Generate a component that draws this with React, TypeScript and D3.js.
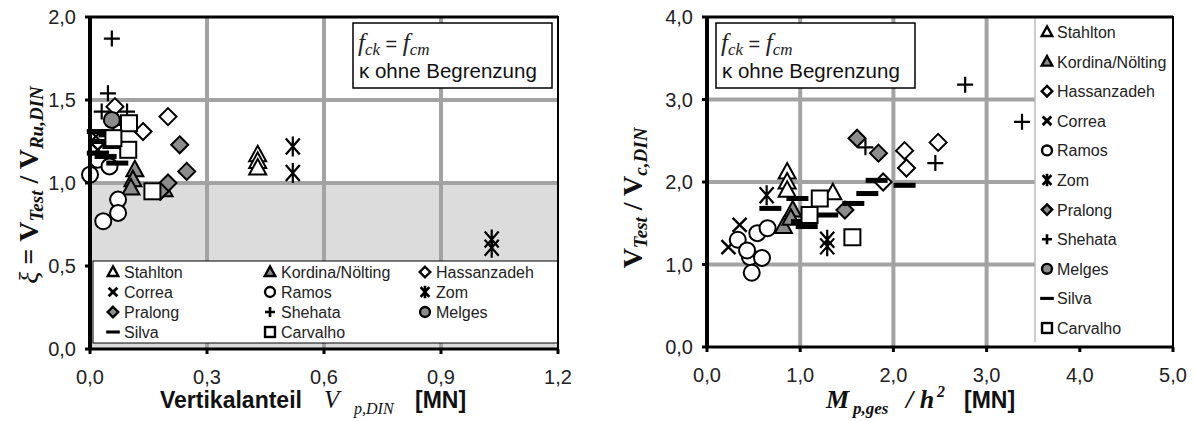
import React from "react";
import * as d3 from "d3";

const W = 1195;
const H = 421;

type Pt = [number, number];

const seriesNames = [
  "Stahlton",
  "Kordina/Nölting",
  "Hassanzadeh",
  "Correa",
  "Ramos",
  "Zom",
  "Pralong",
  "Shehata",
  "Melges",
  "Silva",
  "Carvalho",
];
const seriesMarkers = [
  "triangle",
  "triangleGray",
  "diamond",
  "cross",
  "circle",
  "star",
  "diamondGray",
  "plus",
  "circleGray",
  "dash",
  "square",
];

// left chart: Vertikalanteil V_p,DIN vs xi
const leftStahlton: Pt[] = [[0.43, 1.17], [0.43, 1.13], [0.43, 1.09]];
const leftKordina: Pt[] = [[0.115, 1.08], [0.11, 1.02], [0.105, 0.97], [0.19, 0.96]];
const leftHassanzadeh: Pt[] = [[0.064, 1.46], [0.2, 1.4], [0.136, 1.31]];
const leftCorrea: Pt[] = [[0.015, 1.28], [0.02, 1.2], [0.03, 1.15]];
const leftRamos: Pt[] = [[0, 1.05], [0.02, 1.14], [0.05, 1.1], [0.072, 0.9], [0.072, 0.82], [0.034, 0.77]];
const leftZom: Pt[] = [[0.52, 1.22], [0.52, 1.06], [1.03, 0.66], [1.03, 0.61]];
const leftPralong: Pt[] = [[0.23, 1.23], [0.248, 1.07], [0.2, 1.0], [0.18, 0.95]];
const leftShehata: Pt[] = [[0.056, 1.87], [0.046, 1.54], [0.03, 1.43], [0.095, 1.43], [0.06, 1.35]];
const leftMelges: Pt[] = [[0.056, 1.38]];
const leftSilva: Pt[] = [[0.02, 1.31], [0.05, 1.29], [0.03, 1.25], [0.06, 1.22], [0.02, 1.18], [0.07, 1.12], [0.04, 1.16]];
const leftCarvalho: Pt[] = [[0.1, 1.36], [0.098, 1.2], [0.16, 0.95], [0.06, 1.27]];

// right chart: M_p,ges / h^2 vs V_Test / V_c,DIN
const rightStahlton: Pt[] = [[0.86, 2.12], [0.86, 2.0], [0.86, 1.9], [1.35, 1.87]];
const rightKordina: Pt[] = [[0.92, 1.66], [0.82, 1.46], [0.9, 1.56]];
const rightHassanzadeh: Pt[] = [[1.89, 2.0], [2.12, 2.38], [2.14, 2.17], [2.48, 2.48]];
const rightCorrea: Pt[] = [[0.23, 1.21], [0.35, 1.48]];
const rightRamos: Pt[] = [[0.33, 1.3], [0.46, 1.09], [0.59, 1.08], [0.48, 0.9], [0.54, 1.38], [0.65, 1.44], [0.43, 1.17]];
const rightZom: Pt[] = [[0.64, 1.84], [1.29, 1.3], [1.29, 1.22]];
const rightPralong: Pt[] = [[1.48, 1.66], [1.84, 2.35], [1.61, 2.53]];
const rightShehata: Pt[] = [[1.7, 2.42], [2.45, 2.23], [2.77, 3.18], [3.38, 2.73]];
const rightMelges: Pt[] = [];
const rightSilva: Pt[] = [[0.68, 1.68], [0.97, 1.8], [1.02, 1.52], [1.07, 1.46], [1.29, 1.6], [1.57, 1.74], [1.72, 1.86], [2.12, 1.96], [1.82, 2.02]];
const rightCarvalho: Pt[] = [[1.21, 1.8], [1.1, 1.6], [1.56, 1.33]];

const leftXTicks = [0, 0.3, 0.6, 0.9, 1.2];
const leftYTicks = [0, 0.5, 1, 1.5, 2];
const rightXTicks = [0, 1, 2, 3, 4, 5];
const rightYTicks = [0, 1, 2, 3, 4];

const leftSeries = [leftStahlton, leftKordina, leftHassanzadeh, leftCorrea, leftRamos, leftZom, leftPralong, leftShehata, leftMelges, leftSilva, leftCarvalho];
const rightSeries = [rightStahlton, rightKordina, rightHassanzadeh, rightCorrea, rightRamos, rightZom, rightPralong, rightShehata, rightMelges, rightSilva, rightCarvalho];

const GRID = "#a3a3a3";
const GRAYFILL = "#8c8c8c";
const SANS = "'Liberation Sans', Arial, sans-serif";
const SERIF = "'Liberation Serif', 'Times New Roman', serif";
const fmt = (v: number) => d3.format(".1f")(v).replace(".", ",");

function Marker({ type, x, y, s = 1, sw = 2 }: { type: string; x: number; y: number; s?: number; sw?: number }) {
  const fill = type.endsWith("Gray") ? GRAYFILL : "#fff";
  const t = `translate(${x},${y}) scale(${s})`;
  const w = sw / s;
  if (type.startsWith("triangle"))
    return <path transform={t} d="M0,-9L8.5,6.5L-8.5,6.5Z" fill={fill} stroke="#000" strokeWidth={w} />;
  if (type.startsWith("diamond"))
    return <path transform={t} d="M0,-8.5L8.5,0L0,8.5L-8.5,0Z" fill={fill} stroke="#000" strokeWidth={w} />;
  if (type.startsWith("circle")) return <circle transform={t} r={8} fill={fill} stroke="#000" strokeWidth={w} />;
  if (type === "square") return <rect transform={t} x={-8} y={-8} width={16} height={16} fill="#fff" stroke="#000" strokeWidth={w} />;
  if (type === "cross")
    return <path transform={t} d="M-7,-7L7,7M-7,7L7,-7" stroke="#000" strokeWidth={w * 1.2} fill="none" />;
  if (type === "plus")
    return <path transform={t} d="M-8,0L8,0M0,-8L0,8" stroke="#000" strokeWidth={w * 1.1} fill="none" />;
  if (type === "star")
    return <path transform={t} d="M-7,-8L7,8M-7,8L7,-8M0,-10L0,10" stroke="#000" strokeWidth={w * 1.1} fill="none" />;
  if (type === "dash") return <rect transform={t} x={-11} y={-2.5} width={22} height={5} fill="#000" />;
  return null;
}

function Annotation({ x, y, w }: { x: number; y: number; w: number }) {
  return (
    <g>
      <rect x={x} y={y} width={w} height={65} fill="#fff" stroke="#000" strokeWidth={1.5} />
      <text x={x + 5} y={y + 28} fontFamily={SERIF} fontSize={25} fontStyle="italic" fill="#222">
        f<tspan fontSize={17} dy={4}>ck</tspan>
        <tspan dy={-4} fontStyle="normal" fontFamily={SANS} fontSize={20}> = </tspan>
        f<tspan fontSize={17} dy={4}>cm</tspan>
      </text>
      <text x={x + 6} y={y + 55} fontFamily={SANS} fontSize={20.5} fill="#111">
        κ ohne Begrenzung
      </text>
    </g>
  );
}

function Frame({
  x0, x1, y0, y1, xs, ys, xt, yt,
}: {
  x0: number; x1: number; y0: number; y1: number;
  xs: d3.ScaleLinear<number, number>; ys: d3.ScaleLinear<number, number>;
  xt: number[]; yt: number[];
}) {
  return (
    <g>
      <rect x={x0} y={y1} width={x1 - x0} height={y0 - y1} fill="none" stroke="#000" strokeWidth={2} />
      <line x1={x0} x2={x0} y1={y1 - 1} y2={y0 + 1} stroke="#000" strokeWidth={4} />
      <line x1={x0} x2={x1} y1={y0} y2={y0} stroke="#000" strokeWidth={3} />
      <line x1={x0} x2={x1} y1={y1} y2={y1} stroke="#000" strokeWidth={3} />
      {yt.map((v) => (
        <g key={"y" + v}>
          <line x1={x0 - 5} x2={x0} y1={ys(v)} y2={ys(v)} stroke="#000" strokeWidth={3} />
          <text x={x0 - 14} y={ys(v) + 7} textAnchor="end" fontFamily={SANS} fontSize={20} fill="#222">
            {fmt(v)}
          </text>
        </g>
      ))}
      {xt.map((v) => (
        <g key={"x" + v}>
          <line x1={xs(v)} x2={xs(v)} y1={y0} y2={y0 + 5} stroke="#000" strokeWidth={3} />
          <text x={xs(v)} y={y0 + 35} textAnchor="middle" fontFamily={SANS} fontSize={20} fill="#222">
            {fmt(v)}
          </text>
        </g>
      ))}
    </g>
  );
}

function LeftChart() {
  const x0 = 90, x1 = 558, yTop = 17, yBot = 349;
  const xs = d3.scaleLinear().domain([0, 1.2]).range([x0, x1]);
  const ys = d3.scaleLinear().domain([0, 2]).range([yBot, yTop]);
  const legTop = 261;
  const cols = [113, 270, 425];
  return (
    <g>
      <rect x={x0} y={ys(1)} width={x1 - x0} height={yBot - ys(1)} fill="#dcdcdc" />
      {[1, 1.5].map((v) => (
        <line key={v} x1={x0} x2={x1} y1={ys(v)} y2={ys(v)} stroke={GRID} strokeWidth={4} />
      ))}
      {[0.3, 0.6, 0.9].map((v) => (
        <line key={v} x1={xs(v)} x2={xs(v)} y1={yTop} y2={yBot} stroke={GRID} strokeWidth={4} />
      ))}
      {leftSeries.map((pts, i) =>
        pts.map((p, j) => <Marker key={i + "-" + j} type={seriesMarkers[i]} x={xs(p[0])} y={ys(p[1])} />)
      )}
      <rect x={x0 + 3} y={legTop} width={x1 - x0 - 3} height={yBot - legTop - 6} fill="#fff" stroke="#000" strokeWidth={1} />
      {seriesNames.map((n, i) => {
        const cx = cols[i % 3];
        const cy = 272 + Math.floor(i / 3) * 20;
        return (
          <g key={n}>
            <Marker type={seriesMarkers[i]} x={cx} y={cy} s={0.62} sw={2.4} />
            <text x={cx + 11} y={cy + 6} fontFamily={SANS} fontSize={16} fill="#222">
              {n}
            </text>
          </g>
        );
      })}
      <Frame x0={x0} x1={x1} y0={yBot} y1={yTop} xs={xs} ys={ys} xt={leftXTicks} yt={leftYTicks} />
      <Annotation x={353} y={23} w={199} />
      <g fill="#111">
        <text x={160} y={408} fontFamily={SANS} fontSize={23} fontWeight="bold">Vertikalanteil</text>
        <text x={324} y={408} fontFamily={SERIF} fontStyle="italic" fontSize={25}>V</text>
        <text x={354} y={414} fontFamily={SERIF} fontStyle="italic" fontSize={16}>p,DIN</text>
        <text x={415} y={408} fontFamily={SANS} fontSize={23} fontWeight="bold">[MN]</text>
      </g>
      <text
        transform="translate(38,185) rotate(-90)"
        textAnchor="middle"
        fontFamily={SERIF}
        fontWeight="bold"
        fontSize={28}
        fill="#111"
      >
        <tspan fontWeight="normal" fontStyle="italic">ξ</tspan>
        <tspan> = V</tspan>
        <tspan fontStyle="italic" fontSize={19} dy={5}>Test</tspan>
        <tspan dy={-5}> / V</tspan>
        <tspan fontStyle="italic" fontSize={19} dy={5}>Ru,DIN</tspan>
      </text>
    </g>
  );
}

function RightChart() {
  const x0 = 707, x1 = 1173, yTop = 17, yBot = 347;
  const xs = d3.scaleLinear().domain([0, 5]).range([x0, x1]);
  const ys = d3.scaleLinear().domain([0, 4]).range([yBot, yTop]);
  const legX = 1035;
  return (
    <g>
      {[1, 2, 3].map((v) => (
        <line key={v} x1={x0} x2={legX} y1={ys(v)} y2={ys(v)} stroke={GRID} strokeWidth={4} />
      ))}
      {[1, 2, 3].map((v) => (
        <line key={v} x1={xs(v)} x2={xs(v)} y1={yTop} y2={yBot} stroke={GRID} strokeWidth={4} />
      ))}
      {rightSeries.map((pts, i) =>
        pts.map((p, j) => <Marker key={i + "-" + j} type={seriesMarkers[i]} x={xs(p[0])} y={ys(p[1])} />)
      )}
      <rect x={legX} y={yTop} width={x1 - legX} height={yBot - yTop - 5} fill="#fff" />
      <line x1={legX} x2={legX} y1={yTop} y2={yBot - 5} stroke="#bbb" strokeWidth={1.5} />
      {seriesNames.map((n, i) => {
        const cy = 32 + i * 29.6;
        return (
          <g key={n}>
            <Marker type={seriesMarkers[i]} x={1047} y={cy} s={0.62} sw={2.4} />
            <text x={1057} y={cy + 6} fontFamily={SANS} fontSize={16} fill="#222">
              {n}
            </text>
          </g>
        );
      })}
      <Frame x0={x0} x1={x1} y0={yBot} y1={yTop} xs={xs} ys={ys} xt={rightXTicks} yt={rightYTicks} />
      <Annotation x={716} y={23} w={199} />
      <g fill="#111" fontFamily={SERIF} fontWeight="bold" fontStyle="italic">
        <text x={826} y={408} fontSize={26}>M</text>
        <text x={853} y={414} fontSize={17}>p,ges</text>
        <text x={906} y={408} fontSize={26}>/ h</text>
        <text x={937} y={397} fontSize={16}>2</text>
        <text x={964} y={408} fontSize={23} fontFamily={SANS} fontStyle="normal">[MN]</text>
      </g>
      <text
        transform="translate(642,198) rotate(-90)"
        textAnchor="middle"
        fontFamily={SERIF}
        fontWeight="bold"
        fontSize={28}
        fill="#111"
      >
        V<tspan fontStyle="italic" fontSize={19} dy={5}>Test</tspan>
        <tspan dy={-5}> / V</tspan>
        <tspan fontStyle="italic" fontSize={19} dy={5}>c,DIN</tspan>
      </text>
    </g>
  );
}

export default function App() {
  return (
    <svg width={W} height={H} style={{ position: "absolute", left: 0, top: 0, background: "#fff" }}>
      <rect width={W} height={H} fill="#fff" />
      <LeftChart />
      <RightChart />
    </svg>
  );
}
